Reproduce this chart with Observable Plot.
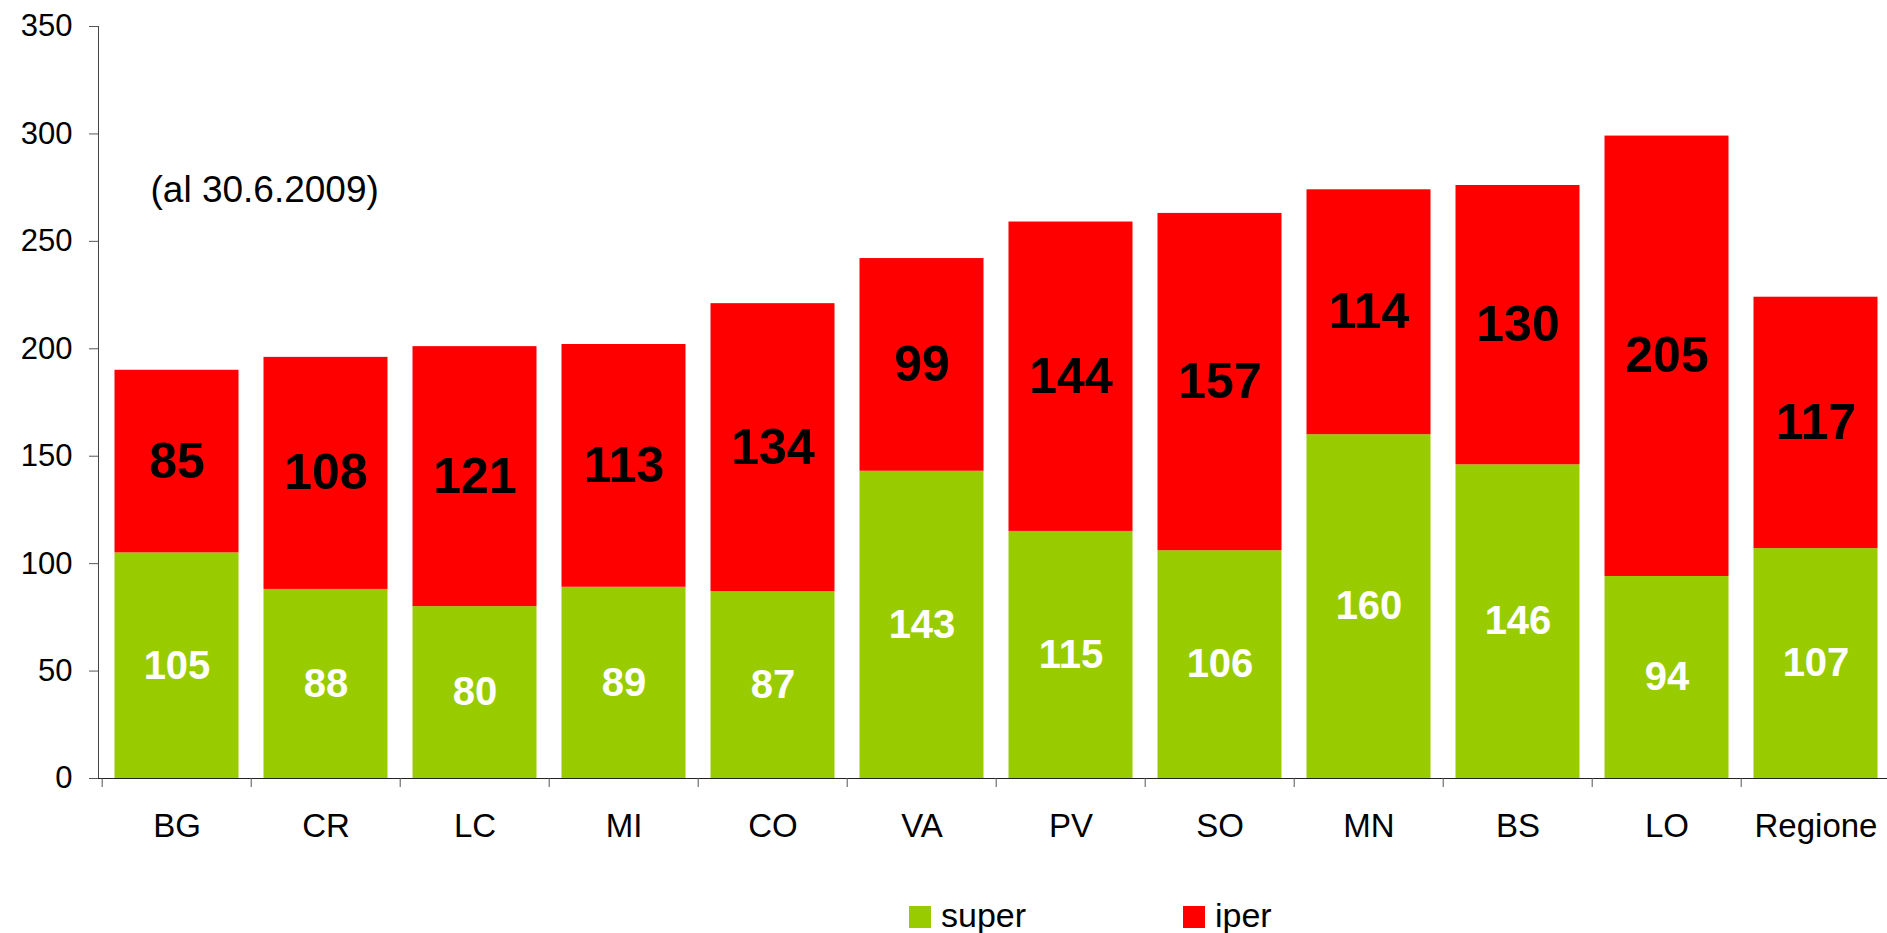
<!DOCTYPE html>
<html><head><meta charset="utf-8">
<script src="https://cdn.jsdelivr.net/npm/d3@7"></script>
<script src="https://cdn.jsdelivr.net/npm/@observablehq/plot@0.6"></script>
<style>
html,body{margin:0;padding:0;background:#fff;overflow:hidden;}
body{font-family:"Liberation Sans",Arial,sans-serif;}
#chart svg{display:block;}
#legend{position:relative;height:73px;width:1887px;}
.sw{position:absolute;width:22px;height:22px;}
.lt{position:absolute;font-size:34px;line-height:34px;color:#000;white-space:nowrap;}
</style></head><body><div id="chart"></div><div id="legend"></div>
<script>
const categories = ["BG","CR","LC","MI","CO","VA","PV","SO","MN","BS","LO","Regione"];
const superValues = [105,88,80,89,87,143,115,106,160,146,94,107];
const iperValues = [85,108,121,113,134,99,144,157,114,130,205,117];
const seriesNames = ["super","iper"];
const seriesColors = ["#99cc00","#ff0000"];
const yTicks = [0,50,100,150,200,250,300,350];
const note = "(al 30.6.2009)";

const rows = [];
categories.forEach((c, i) => {
  rows.push({cat: c, series: "super", value: superValues[i]});
  rows.push({cat: c, series: "iper", value: iperValues[i]});
});

const onlySeries = (name) => (data, facets) => ({data, facets: facets.map(I => I.filter(i => data[i].series === name))});
const FONT = '"Liberation Sans", Arial, sans-serif';

const plot = Plot.plot({
  width: 1887, height: 860,
  marginLeft: 98, marginRight: -7, marginTop: 26, marginBottom: 82,
  style: {fontFamily: FONT, background: "white", color: "black", overflow: "hidden"},
  x: {domain: categories, padding: 0, label: null},
  y: {domain: [0, 350], label: null},
  color: {domain: seriesNames, range: seriesColors},
  marks: [
    Plot.barY(rows, Plot.stackY({x: "cat", y: "value", fill: "series", insetLeft: 12.5, insetRight: 12.5})),
    Plot.text(rows, Plot.transform(Plot.stackY({x: "cat", y: "value", text: d => String(d.value), fill: "white", fontSize: 40, fontWeight: "bold"}), onlySeries("super"))),
    Plot.text(rows, Plot.transform(Plot.stackY({x: "cat", y: "value", text: d => String(d.value), fill: "black", fontSize: 50, fontWeight: "bold"}), onlySeries("iper"))),
    Plot.frame({anchor: "left", stroke: "#444"}),
    Plot.ruleY([0], {stroke: "#222"}),
    Plot.axisY({ticks: yTicks, tickSize: 9, tickPadding: 17, fontSize: 31, stroke: "#555", fill: "black", label: null}),
    Plot.axisX({tickSize: 9, tickFormat: () => "", dx: -74.8, stroke: "#555", label: null}),
    Plot.axisX({tickSize: 0, tickPadding: 35, fontSize: 33, fill: "black", label: null}),
    Plot.text([note], {frameAnchor: "top-left", dx: 52, dy: 164, textAnchor: "start", lineAnchor: "middle", fontSize: 37, fill: "black"})
  ]
});
document.getElementById("chart").appendChild(plot);

const legend = document.getElementById("legend");
const swLeft = [909, 1183];
seriesNames.forEach((name, i) => {
  const sw = document.createElement("div");
  sw.className = "sw";
  sw.style.left = swLeft[i] + "px";
  sw.style.top = "46px";
  sw.style.background = seriesColors[i];
  legend.appendChild(sw);
  const t = document.createElement("div");
  t.className = "lt";
  t.style.left = (swLeft[i] + 32) + "px";
  t.style.top = "38px";
  t.textContent = name;
  legend.appendChild(t);
});
</script>
</body></html>
